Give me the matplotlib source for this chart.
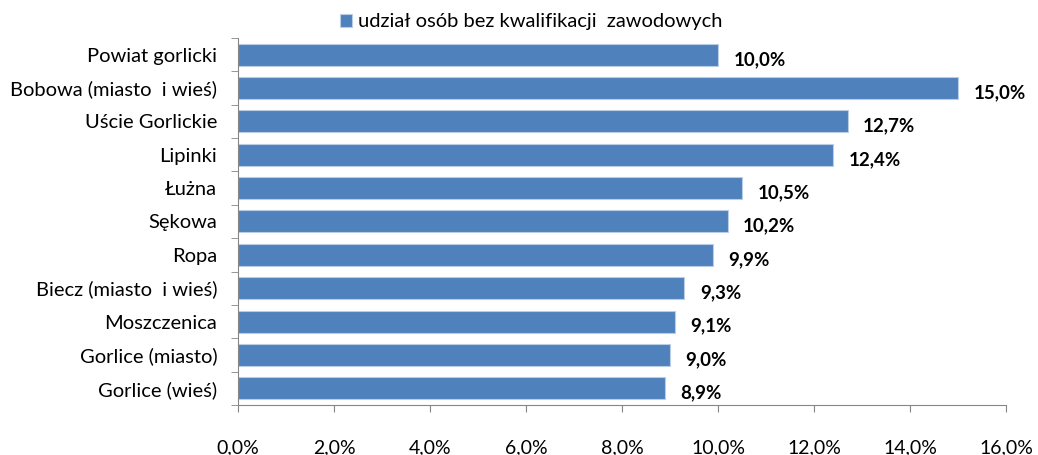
import numpy as np
from matplotlib import pyplot as plt
from matplotlib.ticker import FixedLocator, FuncFormatter

plt.rcParams['font.family'] = ['Lato', 'DejaVu Sans']

categories = ["Powiat gorlicki", "Bobowa (miasto  i wieś)", "Uście Gorlickie", "Lipinki",
              "Łużna", "Sękowa", "Ropa", "Biecz (miasto  i wieś)", "Moszczenica",
              "Gorlice (miasto)", "Gorlice (wieś)"]
values = [10.0, 15.0, 12.7, 12.4, 10.5, 10.2, 9.9, 9.3, 9.1, 9.0, 8.9]
series_name = "udział osób bez kwalifikacji  zawodowych"

bar_color = "#4f81bd"
axis_color = "#868686"

fig = plt.figure(figsize=(10.38, 4.55), dpi=100)
ax = fig.add_axes([0.2293, 0.11, 0.7399, 0.8065])

y = np.arange(len(categories))[::-1]
bars = ax.barh(y, values, height=0.66, color=bar_color, edgecolor="#b9cde5",
               linewidth=0.8, label=series_name)

for yi, v in zip(y, values):
    ax.text(v + 0.32, yi - 0.14, f"{v:.1f}%".replace(".", ","), va="center", ha="left",
            fontsize=13.5, fontweight="bold")

ax.set_xlim(0, 16)
ax.set_ylim(-0.5, len(categories) - 0.5)
ax.set_xticks(np.arange(0, 17, 2))
ax.xaxis.set_major_formatter(FuncFormatter(lambda x, p: f"{x:.1f}%".replace(".", ",")))
ax.set_yticks(y)
ax.set_yticklabels(categories)
ax.yaxis.set_minor_locator(FixedLocator(np.arange(-0.5, len(categories), 1)))
ax.tick_params(axis="y", which="major", length=0, pad=15, labelsize=14.5)
ax.tick_params(axis="y", which="minor", length=5, color=axis_color, direction="out")
ax.tick_params(axis="x", length=5, color=axis_color, direction="out", pad=20, labelsize=14)

for side in ["top", "right"]:
    ax.spines[side].set_visible(False)
for side in ["left", "bottom"]:
    ax.spines[side].set_color(axis_color)

fig.legend(handles=[bars], labels=[series_name], loc="center", bbox_to_anchor=(0.512, 0.952),
           frameon=False, fontsize=14.5, handlelength=0.6, handleheight=0.6, handletextpad=0.3)

fig.savefig("out.png", dpi=100)
